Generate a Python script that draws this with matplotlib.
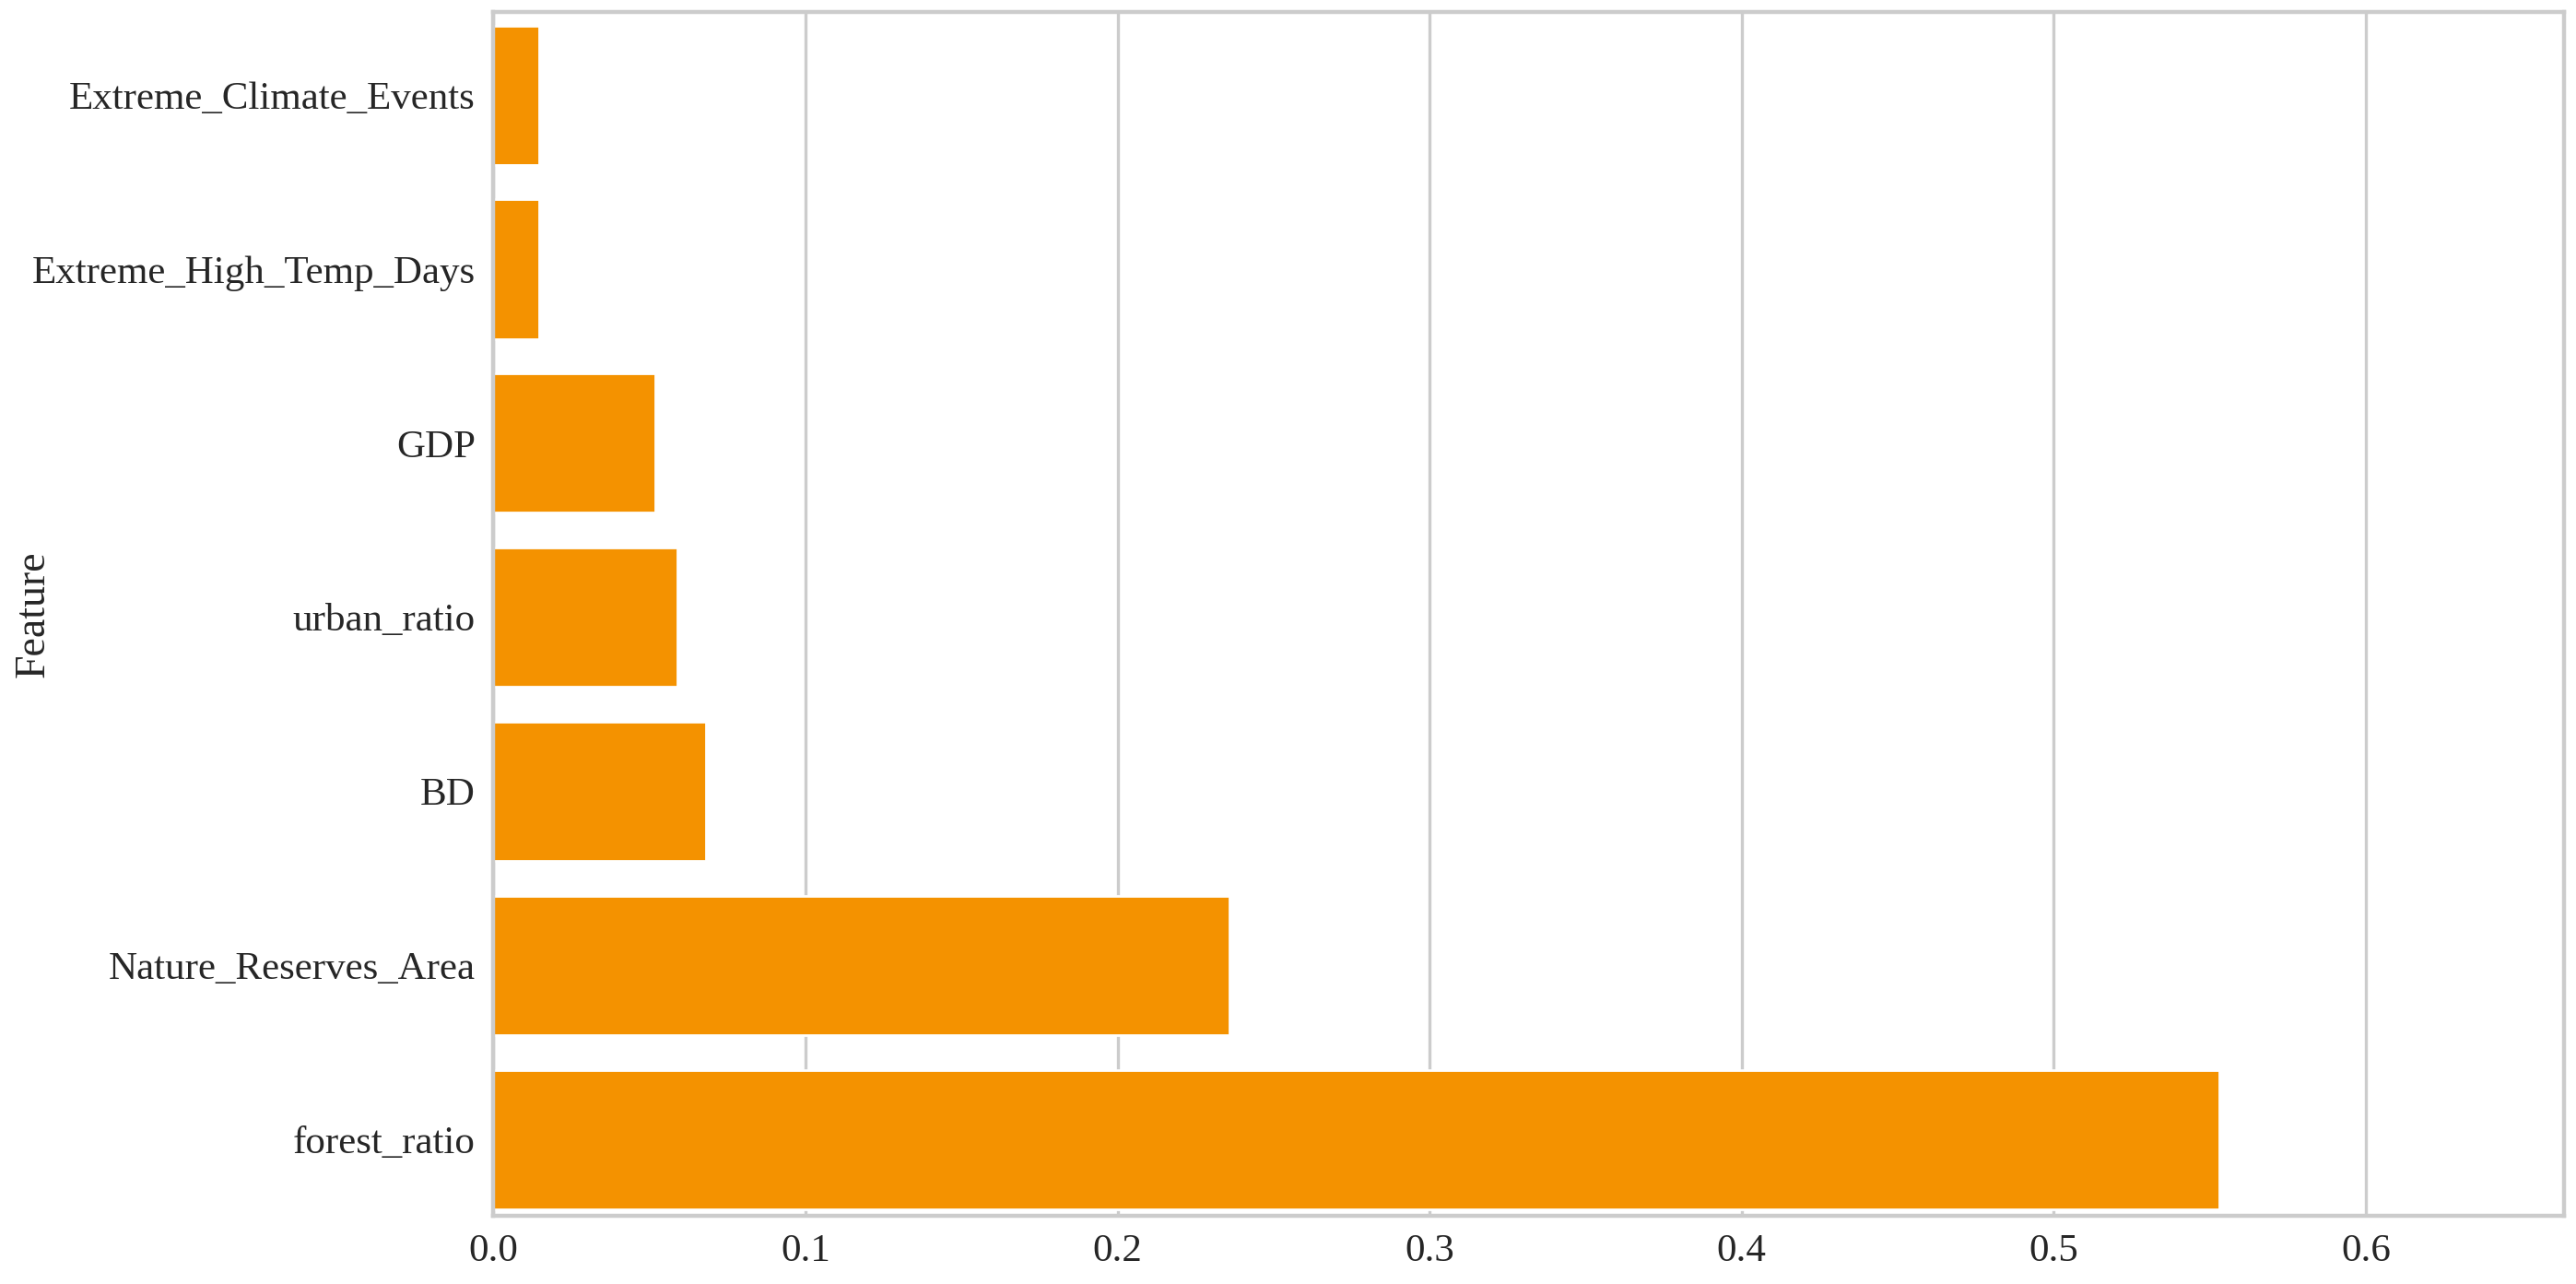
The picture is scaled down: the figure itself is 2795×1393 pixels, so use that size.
import matplotlib
matplotlib.use('Agg')
import matplotlib.pyplot as plt
import seaborn as sns

# --- data (bottom to top) ---
features = ['forest_ratio', 'Nature_Reserves_Area', 'BD', 'urban_ratio', 'GDP',
            'Extreme_High_Temp_Days', 'Extreme_Climate_Events']
importance = [0.553, 0.236, 0.068, 0.059, 0.052, 0.0147, 0.0147]

sns.set_style('whitegrid')
plt.rcParams['font.family'] = ['Liberation Serif', 'DejaVu Serif']

fig, ax = plt.subplots(figsize=(13.975, 6.965), dpi=200)
fig.subplots_adjust(left=0.1915, right=0.9955, top=0.991, bottom=0.053)

ax.barh(range(len(features)), importance, height=0.8, color='#f49200')
ax.set_yticks(range(len(features)))
ax.set_yticklabels(features, fontsize=15.5)
ax.set_xlim(0, max(importance) * 1.2)
ax.set_ylim(-0.44, 6.48)
ax.tick_params(axis='x', labelsize=15.5)
ax.set_ylabel('Feature', fontsize=16.5)
ax.yaxis.set_label_coords(-0.2125, 0.5)
ax.grid(axis='y', visible=False)
ax.grid(axis='x', color='#cccccc', linewidth=1.2)
for s in ax.spines.values():
    s.set_color('#cccccc')
    s.set_linewidth(1.6)

fig.savefig('out.png', dpi=200)
